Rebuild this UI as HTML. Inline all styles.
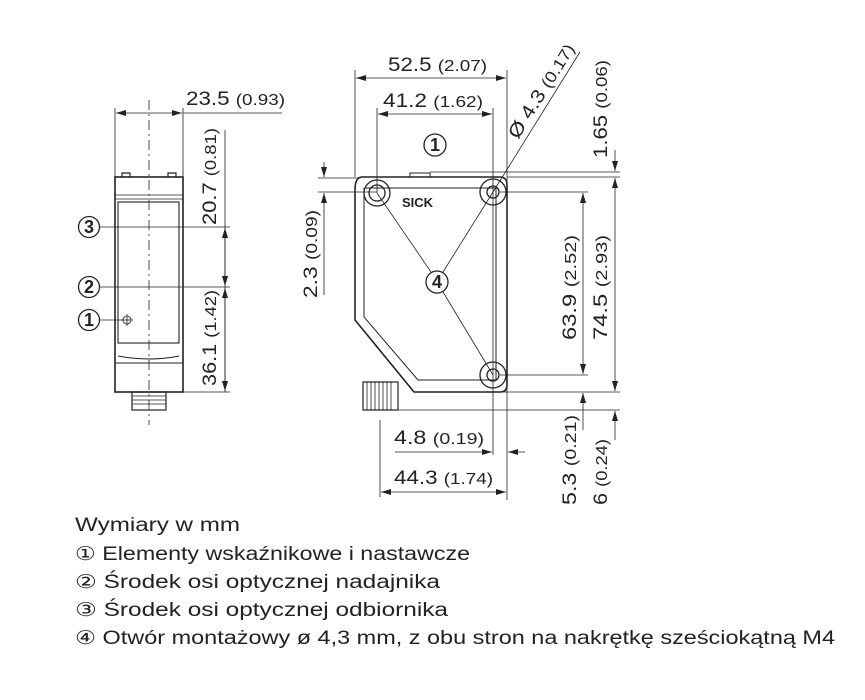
<!DOCTYPE html>
<html><head><meta charset="utf-8"><style>
html,body{margin:0;padding:0;background:#fff;}
svg{display:block;font-family:"Liberation Sans",sans-serif;}
</style></head><body>
<svg width="865" height="700" viewBox="0 0 865 700" xmlns="http://www.w3.org/2000/svg">
<defs>
<marker id="a" markerWidth="10" markerHeight="6" refX="10" refY="3" orient="auto" markerUnits="userSpaceOnUse"><path d="M0,0 L10,3 L0,6z" fill="#222"/></marker>
</defs>
<g stroke="#222" fill="none" stroke-width="0.8">
<!-- side view -->
<line x1="115" y1="108" x2="115" y2="177"/><line x1="183" y1="108" x2="183" y2="177"/>
<line x1="183" y1="113" x2="282" y2="113"/>
<line x1="150" y1="113" x2="116" y2="113" marker-end="url(#a)"/><line x1="150" y1="113" x2="182" y2="113" marker-end="url(#a)"/>
<rect x="115" y="177" width="68" height="215" stroke-width="1.6"/>
<path d="M122,177 v-4 h8 v4 M168,177 v-4 h8 v4" stroke-width="1.2"/>
<line x1="115" y1="195" x2="183" y2="195"/><line x1="115" y1="199" x2="183" y2="199"/>
<rect x="118" y="202" width="61" height="141" stroke-width="1.1"/>
<path d="M118,356 Q149,362 179,356 M115,363 H183" stroke-width="1"/>
<rect x="132" y="392" width="34" height="18" stroke-width="1.2"/>
<path d="M132,396h34M132,400h34M132,404h34"/>
<line x1="149" y1="100" x2="149" y2="425" stroke-dasharray="10,4,2,4"/>
<line x1="225" y1="130" x2="225" y2="392"/>
<line x1="183" y1="227" x2="230" y2="227"/><line x1="100" y1="227" x2="183" y2="227"/>
<line x1="100" y1="287" x2="230" y2="287"/>
<line x1="100" y1="320" x2="123" y2="320"/>
<circle cx="127" cy="320" r="4"/><path d="M121,320h12M127,314v12"/>
<line x1="183" y1="392" x2="230" y2="392"/>
<line x1="225" y1="257" x2="225" y2="228" marker-end="url(#a)"/><line x1="225" y1="257" x2="225" y2="286" marker-end="url(#a)"/>
<line x1="225" y1="340" x2="225" y2="288" marker-end="url(#a)"/><line x1="225" y1="340" x2="225" y2="391" marker-end="url(#a)"/>
<g stroke-width="1.3"><circle cx="89" cy="227" r="10.5"/><circle cx="89" cy="287" r="10.5"/><circle cx="89" cy="320" r="10.5"/></g>
<!-- front view -->
<path d="M362,177 H500 Q507,177 507,185 V385 Q507,392 500,392 H414 L355,320 V190 Q355,177 362,177Z" stroke-width="1.6"/>
<path d="M366,188 H496 V380 H418 L364,317 V188" stroke-width="1"/>
<path d="M410,177 v-4 h20 v4" stroke-width="1"/>
<rect x="363" y="382" width="35" height="28" stroke-width="1.2" fill="#fff"/>
<path d="M367,382v28M371,382v28M375,382v28M379,382v28M383,382v28M387,382v28M391,382v28"/>
<g stroke-width="1.3"><circle cx="377" cy="193" r="13"/><circle cx="377" cy="193" r="8"/>
<circle cx="493" cy="192" r="13"/><circle cx="493" cy="192" r="6"/>
<circle cx="493" cy="375" r="13"/><circle cx="493" cy="375" r="6"/></g>
<path d="M377,193 L431,272 M493,192 L443,272 M443,292 L493,375"/>
<g stroke-width="1.3"><circle cx="437" cy="282" r="11"/><circle cx="435" cy="145" r="11"/></g>
<line x1="355" y1="70" x2="355" y2="177"/><line x1="507" y1="70" x2="507" y2="500"/>
<line x1="431" y1="78" x2="356" y2="78" marker-end="url(#a)"/><line x1="431" y1="78" x2="506" y2="78" marker-end="url(#a)"/>
<line x1="377" y1="108" x2="377" y2="193"/><line x1="493" y1="108" x2="493" y2="455"/>
<line x1="435" y1="114" x2="378" y2="114" marker-end="url(#a)"/><line x1="435" y1="114" x2="492" y2="114" marker-end="url(#a)"/>
<line x1="493" y1="192" x2="580" y2="52"/>
<line x1="430" y1="172" x2="620" y2="172"/><line x1="507" y1="177" x2="620" y2="177"/>
<line x1="500" y1="192" x2="588" y2="192"/><line x1="500" y1="375" x2="588" y2="375"/>
<line x1="414" y1="392" x2="620" y2="392"/><line x1="398" y1="410" x2="620" y2="410"/>
<line x1="615" y1="150" x2="615" y2="171" marker-end="url(#a)"/>
<line x1="615" y1="285" x2="615" y2="178" marker-end="url(#a)"/><line x1="615" y1="285" x2="615" y2="391" marker-end="url(#a)"/>
<line x1="615" y1="440" x2="615" y2="411" marker-end="url(#a)"/>
<line x1="583" y1="283" x2="583" y2="193" marker-end="url(#a)"/><line x1="583" y1="283" x2="583" y2="374" marker-end="url(#a)"/>
<line x1="583" y1="430" x2="583" y2="393" marker-end="url(#a)"/>
<line x1="318" y1="178" x2="360" y2="178"/><line x1="318" y1="192" x2="377" y2="192"/>
<line x1="324" y1="162" x2="324" y2="177" marker-end="url(#a)"/><line x1="324" y1="295" x2="324" y2="193" marker-end="url(#a)"/>
<line x1="380" y1="420" x2="380" y2="497"/>
<line x1="395" y1="452" x2="492" y2="452" marker-end="url(#a)"/><line x1="525" y1="452" x2="508" y2="452" marker-end="url(#a)"/>
<line x1="444" y1="492" x2="381" y2="492" marker-end="url(#a)"/><line x1="444" y1="492" x2="506" y2="492" marker-end="url(#a)"/>
</g>
<g fill="#222" font-size="19">
<text x="186" y="105" textLength="99" lengthAdjust="spacingAndGlyphs">23.5 <tspan font-size="16">(0.93)</tspan></text>
<text transform="translate(216,225) rotate(-90)" textLength="97" lengthAdjust="spacingAndGlyphs">20.7 <tspan font-size="16">(0.81)</tspan></text>
<text transform="translate(216,386) rotate(-90)" textLength="96" lengthAdjust="spacingAndGlyphs">36.1 <tspan font-size="16">(1.42)</tspan></text>
<text x="388" y="71" textLength="99" lengthAdjust="spacingAndGlyphs">52.5 <tspan font-size="16">(2.07)</tspan></text>
<text x="383" y="107" textLength="100" lengthAdjust="spacingAndGlyphs">41.2 <tspan font-size="16">(1.62)</tspan></text>
<text transform="translate(518,140) rotate(-58)" textLength="108" lengthAdjust="spacingAndGlyphs">Ø 4.3 <tspan font-size="16">(0.17)</tspan></text>
<text transform="translate(607,158) rotate(-90)" textLength="98" lengthAdjust="spacingAndGlyphs">1.65 <tspan font-size="16">(0.06)</tspan></text>
<text transform="translate(607,340) rotate(-90)" textLength="105" lengthAdjust="spacingAndGlyphs">74.5 <tspan font-size="16">(2.93)</tspan></text>
<text transform="translate(576,340) rotate(-90)" textLength="105" lengthAdjust="spacingAndGlyphs">63.9 <tspan font-size="16">(2.52)</tspan></text>
<text transform="translate(317,298) rotate(-90)" textLength="88" lengthAdjust="spacingAndGlyphs">2.3 <tspan font-size="16">(0.09)</tspan></text>
<text transform="translate(576,505) rotate(-90)" textLength="90" lengthAdjust="spacingAndGlyphs">5.3 <tspan font-size="16">(0.21)</tspan></text>
<text transform="translate(607,505) rotate(-90)" textLength="66" lengthAdjust="spacingAndGlyphs">6 <tspan font-size="16">(0.24)</tspan></text>
<text x="394" y="444" textLength="90" lengthAdjust="spacingAndGlyphs">4.8 <tspan font-size="16">(0.19)</tspan></text>
<text x="394" y="484" textLength="99" lengthAdjust="spacingAndGlyphs">44.3 <tspan font-size="16">(1.74)</tspan></text>
<text x="402" y="207" font-size="13" font-weight="bold">SICK</text>
<g font-size="18" font-weight="bold" text-anchor="middle"><text x="89" y="233">3</text><text x="89" y="293">2</text><text x="89" y="326">1</text><text x="437" y="288">4</text><text x="435" y="151">1</text></g>
<g font-size="19">
<text x="75" y="531" textLength="165" lengthAdjust="spacingAndGlyphs">Wymiary w mm</text>
<text x="75" y="560" textLength="395" lengthAdjust="spacingAndGlyphs">① Elementy wskaźnikowe i nastawcze</text>
<text x="75" y="588" textLength="365" lengthAdjust="spacingAndGlyphs">② Środek osi optycznej nadajnika</text>
<text x="75" y="616" textLength="373" lengthAdjust="spacingAndGlyphs">③ Środek osi optycznej odbiornika</text>
<text x="75" y="644" textLength="760" lengthAdjust="spacingAndGlyphs">④ Otwór montażowy ø 4,3 mm, z obu stron na nakrętkę sześciokątną M4</text>
</g>
</g>
</svg>
</body></html>
